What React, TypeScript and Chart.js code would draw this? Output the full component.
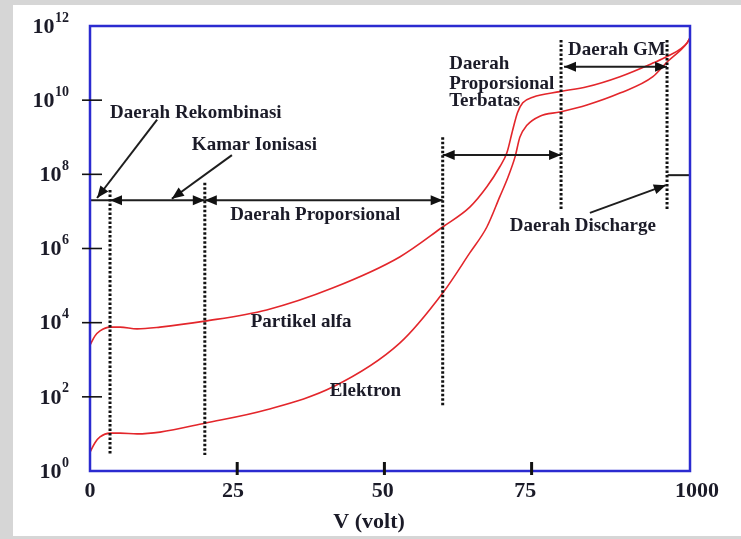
import { useEffect, useRef } from "react";
import { Chart, registerables } from "chart.js";

Chart.register(...registerables);

// ---- data ----
const alfaVoltage = [0, 0.85, 1.7, 3.4, 5.1, 8, 11.9, 19.5, 30, 41.3, 52.6, 59.9, 64.5, 67.4, 69.6, 70.8, 71.8, 72.6, 73.5, 75.2, 79.8, 84.4, 90, 95.6, 98, 101.4, 101.9];
const partikelAlfa = [2.5e3, 4.4e3, 6.0e3, 7.6e3, 7.6e3, 6.8e3, 7.6e3, 1.1e4, 2.2e4, 8.7e4, 5.9e5, 3.8e6, 1.3e7, 4.6e7, 1.6e8, 3.8e8, 1.6e9, 4.6e9, 8.5e9, 1.2e10, 1.7e10, 2.3e10, 4.3e10, 1.0e11, 1.5e11, 3.5e11, 4.8e11];
const elektronVoltage = [0, 0.85, 1.7, 3.4, 5.1, 8, 11.9, 19.5, 30, 41.3, 52.6, 59.9, 64.5, 67.4, 69.6, 71.0, 72.2, 73.0, 74.2, 76.4, 79.8, 84.4, 90, 95.6, 98, 101.4, 101.9];
const elektron = [3.2, 5.8, 8.3, 10.5, 10.5, 10, 11.2, 19.5, 45, 186, 2.8e3, 6.3e4, 7.6e5, 3.8e6, 2.5e7, 8.5e7, 3.0e8, 1.0e9, 2.1e9, 3.7e9, 4.8e9, 7.4e9, 1.55e10, 4.3e10, 1.07e11, 3.5e11, 4.8e11];

const xMin = 0;
const xMax = 101.9;
const yMin = 1;
const yMax = 1e12;

const yTickValues = [1, 1e2, 1e4, 1e6, 1e8, 1e10, 1e12];
const yTickExponents = ["0", "2", "4", "6", "8", "10", "12"];
const yTickMarkValues = [1e2, 1e4, 1e6, 1e8, 1e10];
const xTickLabelValues = [0, 24.3, 49.7, 73.9, 103.1];
const xTickLabels = ["0", "25", "50", "75", "1000"];
const xTickMarkValues = [25, 50, 75];
const xAxisTitle = "V (volt)";

// region boundaries (dotted lines): x, top value, bottom value
const regionLines = [
  { x: 3.4, top: 3.8e7, bottom: 2.7 },
  { x: 19.5, top: 5.9e7, bottom: 2.7 },
  { x: 59.9, top: 1.0e9, bottom: 54 },
  { x: 80, top: 4.2e11, bottom: 1.1e7 },
  { x: 98, top: 4.2e11, bottom: 1.1e7 },
];

// arrows: from -> to, heads: 0 none, 1 end, 2 both
const arrows = [
  { x0: 0, y0: 2.0e7, x1: 3.4, y1: 2.0e7, heads: 0 },
  { x0: 3.4, y0: 2.0e7, x1: 19.5, y1: 2.0e7, heads: 2 },
  { x0: 19.5, y0: 2.0e7, x1: 59.9, y1: 2.0e7, heads: 2 },
  { x0: 11.4, y0: 3.0e9, x1: 1.2, y1: 2.3e7, heads: 1 },
  { x0: 24.1, y0: 3.3e8, x1: 13.9, y1: 2.2e7, heads: 1 },
  { x0: 59.9, y0: 3.3e8, x1: 80, y1: 3.3e8, heads: 2 },
  { x0: 80.5, y0: 8.0e10, x1: 98, y1: 8.0e10, heads: 2 },
  { x0: 84.9, y0: 9.1e6, x1: 97.8, y1: 5.1e7, heads: 1 },
  { x0: 98.1, y0: 9.5e7, x1: 101.9, y1: 9.5e7, heads: 0 },
];

const labels = [
  { text: "Daerah Rekombinasi", x: 3.4, y: 4.5e9 },
  { text: "Kamar Ionisasi", x: 17.3, y: 6.2e8 },
  { text: "Daerah Proporsional", x: 23.8, y: 8.0e6 },
  { text: "Daerah", x: 61, y: 9.5e10 },
  { text: "Proporsional", x: 61, y: 2.75e10 },
  { text: "Terbatas", x: 61, y: 9.5e9 },
  { text: "Daerah GM", x: 81.2, y: 2.2e11 },
  { text: "Daerah Discharge", x: 71.3, y: 4.1e6 },
  { text: "Partikel alfa", x: 27.3, y: 1.05e4 },
  { text: "Elektron", x: 40.7, y: 145 },
];

const SERIF = '"Liberation Serif", "Times New Roman", serif';

function drawArrowHead(ctx: CanvasRenderingContext2D, fx: number, fy: number, tx: number, ty: number) {
  const ang = Math.atan2(ty - fy, tx - fx);
  const len = 12;
  const half = 5;
  ctx.beginPath();
  ctx.moveTo(tx, ty);
  ctx.lineTo(tx - len * Math.cos(ang) + half * Math.sin(ang), ty - len * Math.sin(ang) - half * Math.cos(ang));
  ctx.lineTo(tx - len * Math.cos(ang) - half * Math.sin(ang), ty - len * Math.sin(ang) + half * Math.cos(ang));
  ctx.closePath();
  ctx.fill();
}

const backgroundPlugin = {
  id: "bgFrame",
  beforeDraw(chart: any) {
    const ctx = chart.ctx as CanvasRenderingContext2D;
    ctx.save();
    ctx.fillStyle = "#d6d6d6";
    ctx.fillRect(0, 0, chart.width, chart.height);
    ctx.fillStyle = "#ffffff";
    ctx.fillRect(13, 5, chart.width - 13, chart.height - 8);
    ctx.restore();
  },
};

const annotationPlugin = {
  id: "annotations",
  afterDatasetsDraw(chart: any) {
    const ctx = chart.ctx as CanvasRenderingContext2D;
    const xs = chart.scales.x;
    const ys = chart.scales.y;
    const px = (v: number) => xs.getPixelForValue(v);
    const py = (v: number) => ys.getPixelForValue(v);
    ctx.save();

    // dotted region lines
    ctx.strokeStyle = "#111111";
    ctx.lineWidth = 3;
    ctx.setLineDash([2.5, 2]);
    for (const l of regionLines) {
      ctx.beginPath();
      ctx.moveTo(px(l.x), py(l.top));
      ctx.lineTo(px(l.x), py(l.bottom));
      ctx.stroke();
    }
    ctx.setLineDash([]);

    // arrows
    ctx.strokeStyle = "#1e1e1e";
    ctx.fillStyle = "#111111";
    ctx.lineWidth = 2;
    for (const a of arrows) {
      const x0 = px(a.x0), y0 = py(a.y0), x1 = px(a.x1), y1 = py(a.y1);
      ctx.beginPath();
      ctx.moveTo(x0, y0);
      ctx.lineTo(x1, y1);
      ctx.stroke();
      if (a.heads >= 1) drawArrowHead(ctx, x0, y0, x1, y1);
      if (a.heads === 2) drawArrowHead(ctx, x1, y1, x0, y0);
    }

    // labels
    ctx.fillStyle = "#1b1b28";
    ctx.font = `bold 19px ${SERIF}`;
    ctx.textAlign = "left";
    ctx.textBaseline = "middle";
    for (const t of labels) {
      ctx.fillText(t.text, px(t.x), py(t.y));
    }
    ctx.restore();
  },
  afterDraw(chart: any) {
    const ctx = chart.ctx as CanvasRenderingContext2D;
    const xs = chart.scales.x;
    const ys = chart.scales.y;
    const area = chart.chartArea;
    ctx.save();

    // frame
    ctx.strokeStyle = "#2b2bd0";
    ctx.lineWidth = 2.5;
    ctx.strokeRect(area.left, area.top, area.right - area.left, area.bottom - area.top);

    // y tick marks
    ctx.strokeStyle = "#111111";
    ctx.lineWidth = 1.6;
    for (const v of yTickMarkValues) {
      const y = ys.getPixelForValue(v);
      ctx.beginPath();
      ctx.moveTo(area.left - 8, y);
      ctx.lineTo(area.left + 12, y);
      ctx.stroke();
    }
    // x tick marks
    ctx.lineWidth = 3;
    for (const v of xTickMarkValues) {
      const x = xs.getPixelForValue(v);
      ctx.beginPath();
      ctx.moveTo(x, area.bottom - 9);
      ctx.lineTo(x, area.bottom + 4);
      ctx.stroke();
    }

    // y tick labels: 10^n
    ctx.fillStyle = "#1b1b28";
    ctx.textBaseline = "middle";
    ctx.textAlign = "right";
    const right = area.left - 21;
    yTickValues.forEach((v, i) => {
      const y = ys.getPixelForValue(v);
      ctx.font = `bold 14px ${SERIF}`;
      const ew = ctx.measureText(yTickExponents[i]).width;
      ctx.fillText(yTickExponents[i], right, y - 8);
      ctx.font = `bold 22px ${SERIF}`;
      ctx.fillText("10", right - ew - 0.5, y + 1);
    });

    // x tick labels
    ctx.textAlign = "center";
    ctx.font = `bold 22px ${SERIF}`;
    xTickLabelValues.forEach((v, i) => {
      ctx.fillText(xTickLabels[i], xs.getPixelForValue(v), area.bottom + 20);
    });

    // axis title
    ctx.font = `bold 22px ${SERIF}`;
    ctx.fillText(xAxisTitle, xs.getPixelForValue(47.4), area.bottom + 51);
    ctx.restore();
  },
};

export default function App() {
  const canvasRef = useRef<HTMLCanvasElement | null>(null);

  useEffect(() => {
    if (!canvasRef.current) return;
    const chart = new Chart(canvasRef.current, {
      type: "line",
      data: {
        datasets: [
          {
            label: "Partikel alfa",
            data: alfaVoltage.map((v, i) => ({ x: v, y: partikelAlfa[i] })),
            borderColor: "#e3262b",
            borderWidth: 1.6,
            pointRadius: 0,
            cubicInterpolationMode: "monotone",
          },
          {
            label: "Elektron",
            data: elektronVoltage.map((v, i) => ({ x: v, y: elektron[i] })),
            borderColor: "#e3262b",
            borderWidth: 1.6,
            pointRadius: 0,
            cubicInterpolationMode: "monotone",
          },
        ],
      },
      options: {
        animation: false,
        responsive: false,
        devicePixelRatio: 1,
        layout: { padding: { left: 90, top: 26, right: 51, bottom: 68 } },
        plugins: { legend: { display: false }, tooltip: { enabled: false } },
        scales: {
          x: { type: "linear", min: xMin, max: xMax, display: false },
          y: { type: "logarithmic", min: yMin, max: yMax, display: false },
        },
      },
      plugins: [backgroundPlugin, annotationPlugin],
    } as any);
    return () => chart.destroy();
  }, []);

  return (
    <div style={{ position: "fixed", left: 0, top: 0, width: 741, height: 539 }}>
      <canvas ref={canvasRef} width={741} height={539} style={{ display: "block", width: 741, height: 539 }} />
    </div>
  );
}
